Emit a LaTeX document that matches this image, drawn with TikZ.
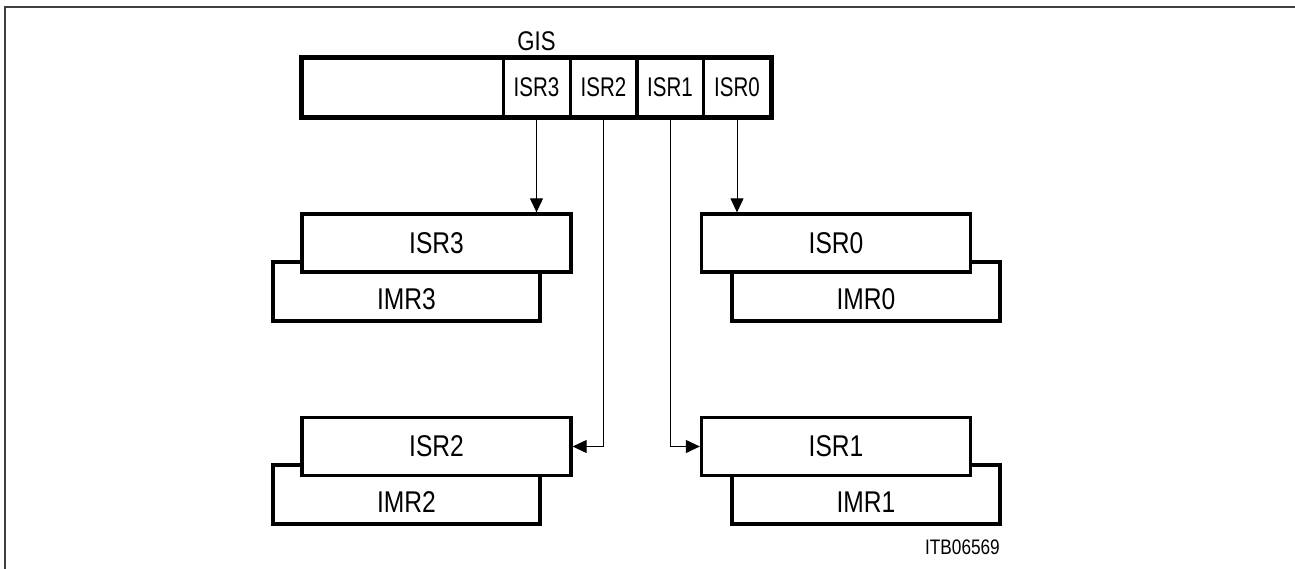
\documentclass[tikz,border=0pt]{standalone}
\usepackage{fontspec}
\setmainfont{Liberation Sans}[FakeStretch=0.82]
\newfontfamily\cellfont{Liberation Sans}[FakeStretch=0.76]
\usetikzlibrary{arrows.meta,calc}
\begin{document}
\begin{tikzpicture}[x=1pt,y=-1pt,
  reg/.style={draw,line width=3.3pt,fill=white,rectangle,inner sep=0pt,
    minimum width=269pt,minimum height=58pt,font=\fontsize{30}{34}\selectfont},
  cell/.style={draw,line width=3pt,rectangle,inner sep=0pt,
    minimum width=67pt,minimum height=59pt,font=\cellfont\fontsize{27}{32}\selectfont},
  lbl/.style={inner sep=0pt,font=\fontsize{30}{34}\selectfont},
  conn/.style={line width=1pt,-{Triangle[length=14pt,width=13pt]}},
  frame/.style={line width=2pt,draw=black!75}]
\useasboundingbox (0,0) rectangle (1295,569);
% frame
\coordinate (fa) at (5,569);
\coordinate (fb) at (5,7);
\coordinate (fc) at (1295,7);
\draw[frame] (fa) -- (fb) -- (fc);
% GIS register
\node[cell,minimum width=469pt,line width=3.3pt] (gis) at (536.5,87.5) {};
\node[inner sep=0pt,font=\fontsize{27}{30}\selectfont,anchor=south] (gist) at ($(gis.north)+(0,-5)$) {GIS};
\node[cell] (c3) at (536.5,87.5) {ISR3};
\node[cell] (c2) at (603.5,87.5) {ISR2};
\node[cell] (c1) at (670,87.5) {ISR1};
\node[cell] (c0) at (737,87.5) {ISR0};
\draw[line width=3.3pt] (gis.north west) rectangle (gis.south east);
% IMR boxes (behind)
\node[reg,minimum width=267pt,minimum height=59pt] (imr3) at (406.5,291.5) {};
\node[reg,minimum width=268pt,minimum height=59pt] (imr0) at (866,291.5) {};
\node[reg,minimum width=267pt,minimum height=59pt] (imr2) at (406.5,494.5) {};
\node[reg,minimum width=268pt,minimum height=59pt] (imr1) at (866,494.5) {};
% ISR boxes
\node[reg] (isr3) at (436.5,243) {ISR3};
\node[reg] (isr0) at (836,243) {ISR0};
\node[reg] (isr2) at (436.5,446.5) {ISR2};
\node[reg] (isr1) at (836,446.5) {ISR1};
% IMR labels
\node[lbl] (imr3t) at ($(imr3.center)+(0,8)$) {IMR3};
\node[lbl] (imr0t) at ($(imr0.center)+(0,8)$) {IMR0};
\node[lbl] (imr2t) at ($(imr2.center)+(0,8)$) {IMR2};
\node[lbl] (imr1t) at ($(imr1.center)+(0,8)$) {IMR1};
% connectors
\draw[conn] (c3.south) -- (c3.south |- isr3.north);
\draw[conn] (c0.south) -- (c0.south |- isr0.north);
\draw[conn] (c2.south) |- (isr2.east);
\draw[conn] (c1.south) |- (isr1.west);
% id
\node[inner sep=0pt,font=\fontsize{21}{24}\selectfont,anchor=east] (id) at (1000,547) {ITB06569};
\end{tikzpicture}
\end{document}
